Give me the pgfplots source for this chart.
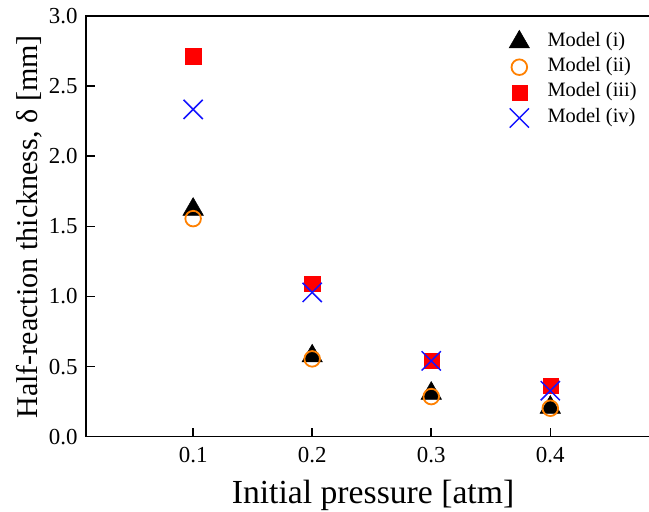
\documentclass[border=0pt]{standalone}
\usepackage{pgfplots}
\pgfplotsset{compat=1.18}
\usepackage{fontspec}
\setmainfont{Liberation Serif}
\definecolor{morange}{RGB}{255,128,0}
\definecolor{mblue}{RGB}{20,20,255}
\begin{document}
\begin{tikzpicture}
\useasboundingbox (-86bp,-75.3bp) rectangle (563bp,436.7bp);
\begin{axis}[
  at={(0,0)}, anchor=south west,
  scale only axis, width=565bp, height=420.7bp,
  xmin=0.01, xmax=0.4846, ymin=0, ymax=3,
  xtick={0.1,0.2,0.3,0.4}, ytick={0,0.5,...,3},
  xtick pos=bottom, ytick pos=left, tick align=inside,
  major tick length=9bp,
  axis line style={line width=1.5bp},
  every tick/.style={line width=1.5bp, black},
  /pgf/number format/assume math mode=true,
  ticklabel style={font=\fontsize{23}{25}\selectfont,
    /pgf/number format/fixed, /pgf/number format/fixed zerofill,
    /pgf/number format/precision=1},
  xticklabel style={yshift=-7bp},
  yticklabel style={xshift=-5bp},
  xlabel={Initial pressure [atm]},
  ylabel={Half-reaction thickness, δ [mm]},
  xlabel style={at={(axis description cs:0.508,-0.1576)}, anchor=base, font=\fontsize{33.8}{36}\selectfont},
  ylabel style={at={(axis description cs:-0.0867,0.4988)}, anchor=base, font=\fontsize{30.2}{34}\selectfont},
  legend image code/.code={\draw[#1] plot coordinates {(0bp,0bp)};},
  legend cell align=left,
  legend style={draw=none, fill=none, at={(axis description cs:0.7485,0.9665)}, anchor=north west,
    font=\fontsize{20.5}{22}\selectfont, inner sep=0pt, row sep=7.1bp, column sep=18bp,
    nodes={inner sep=0pt, text height=13bp, text depth=5bp}},
]
\addplot[only marks, mark=triangle*, mark size=11.8bp, draw=black, fill=black, mark options={line width=0.5bp}]
  coordinates {(0.1,1.621) (0.2,0.575) (0.3,0.309) (0.4,0.209)};
\addlegendentry{Model (i)}
\addplot[only marks, mark=o, mark size=7.8bp, draw=morange, mark options={line width=1.8bp}]
  coordinates {(0.1,1.555) (0.2,0.555) (0.3,0.286) (0.4,0.203)};
\addlegendentry{Model (ii)}
\addplot[only marks, mark=square*, mark size=7.6bp, draw=red, fill=red, mark options={line width=0.2bp}]
  coordinates {(0.1,2.714) (0.2,1.092) (0.3,0.541) (0.4,0.366)};
\addlegendentry{Model (iii)}
\addplot[only marks, mark=x, mark size=13.6bp, draw=mblue, mark options={line width=1.5bp}]
  coordinates {(0.1,2.334) (0.2,1.029) (0.3,0.541) (0.4,0.328)};
\addlegendentry{Model (iv)}
\end{axis}
\end{tikzpicture}
\end{document}
